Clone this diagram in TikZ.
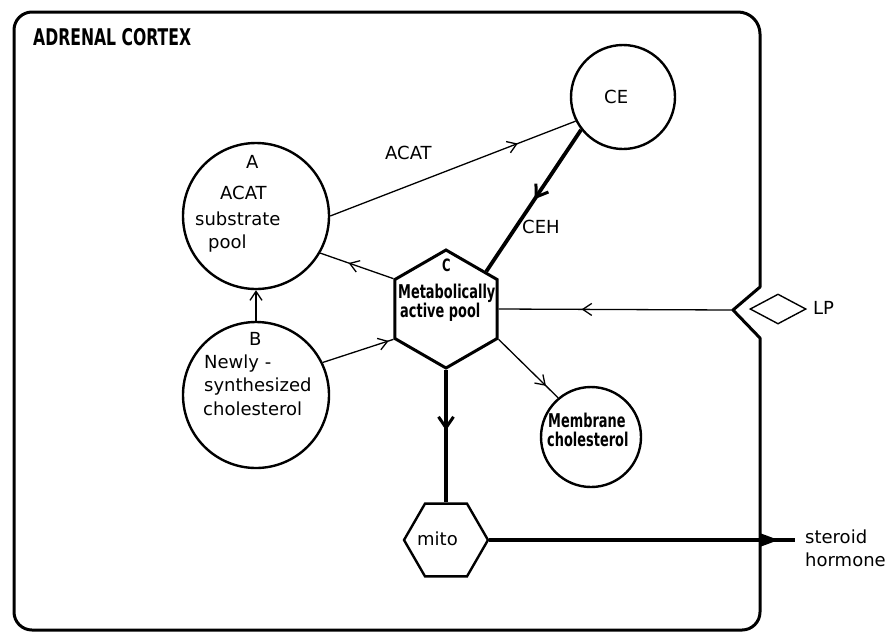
\documentclass[tikz,border=0pt]{standalone}
\usepackage{fontspec}
\setmainfont{DejaVu Sans}
\newfontfamily\condfont{DejaVu Sans}[FakeStretch=0.68]
\usetikzlibrary{shapes.geometric, arrows.meta, decorations.markings}

\begin{document}
\begin{tikzpicture}[x=1pt, y=-1pt,
  txt/.style={inner sep=0pt, anchor=base west, font=\fontsize{18}{20}\selectfont},
  ctxt/.style={inner sep=0pt, anchor=base west, font=\condfont\bfseries\fontsize{19}{20}\selectfont},
  pool/.style={circle, draw, line width=2.4pt, inner sep=0pt},
  hexa/.style={regular polygon, regular polygon sides=6, draw, line width=3pt, inner sep=0pt},
  flow/.style={line width=1.3pt},
  mainflow/.style={line width=3.8pt},
  cellwall/.style={line width=3pt, line join=round},
  midbarb/.style={postaction={decorate}, decoration={markings,
      mark=at position #1 with {\arrow{Straight Barb[length=9pt,width=12pt,line width=1.3pt]}}}},
  midbarbthick/.style={postaction={decorate}, decoration={markings,
      mark=at position #1 with {\arrow{Straight Barb[length=11pt,width=15pt,line width=3pt]}}}},
  midtri/.style={postaction={decorate}, decoration={markings,
      mark=at position #1 with {\arrow{Triangle[length=18pt,width=12pt]}}}},
]
\useasboundingbox (0,0) rectangle (890,633);

% cell outline with the lipoprotein receptor notch
\draw[cellwall] (300,12) [rounded corners=22pt] -- (760,12) -- (760,200)
  [sharp corners] -- (760,287) -- (733,310) -- (760,338) -- (760,400)
  [rounded corners=18pt] -- (760,630) -- (14,630) -- (14,12) -- cycle;
\coordinate (notch) at (733,310);
\node[inner sep=0pt, anchor=base west, font=\condfont\bfseries\fontsize{23}{24}\selectfont]
  (title) at (33,45) {ADRENAL CORTEX};

% pools
\node[pool, minimum size=146pt] (A) at (256,216) {};
\node[pool, minimum size=146pt] (B) at (256,395) {};
\node[pool, minimum size=104pt] (CE) at (623,97) {};
\node[pool, minimum size=100pt] (M) at (591,437) {};
\node[hexa, minimum size=118pt, shape border rotate=30] (C) at (446,309) {};
\node[hexa, minimum size=84pt, line width=2.4pt] (mito) at (446,540) {};
\node[diamond, draw, line width=1.4pt, minimum width=56pt, minimum height=30pt,
  inner sep=0pt] (lp) at (778,309) {};
\coordinate (out) at (795,540);

% pool labels
\node[txt] (Aa) at (246,168) {A};
\node[txt] (Ab) at (220,199) {ACAT};
\node[txt] (Ac) at (195,225) {substrate};
\node[txt] (Ad) at (208,248) {pool};
\node[txt] (Ba) at (249,345) {B};
\node[txt] (Bb) at (204,368) {Newly -};
\node[txt] (Bc) at (204,391) {synthesized};
\node[txt] (Bd) at (203,415) {cholesterol};
\node[txt] (CEa) at (604,103) {CE};
\node[ctxt, font=\condfont\bfseries\fontsize{17}{18}\selectfont] (Ca) at (442,271) {C};
\node[ctxt] (Cb) at (398,298) {Metabolically};
\node[ctxt] (Cc) at (400,317) {active pool};
\node[ctxt] (Ma) at (548,427) {Membrane};
\node[ctxt] (Mb) at (547,446) {cholesterol};
\node[txt] (mitoa) at (417,545) {mito};
\node[txt] (lpa) at (813,314) {LP};
\node[txt] (sa) at (805,543) {steroid};
\node[txt] (sb) at (805,566) {hormone};
\node[txt] (acat) at (385,159) {ACAT};
\node[txt] (ceh) at (522,233) {CEH};

% fluxes
\draw[flow, midbarb=-62pt] (A.east) -- (CE.207);
\draw[mainflow, midbarbthick=0.49] (CE.218) -- (C.43);
\draw[flow, midbarb=-30pt] (C.150) -- (A.330);
\draw[flow, -{Straight Barb[length=9pt,width=12pt]}] (B.90) -- (A.270);
\draw[flow, midbarb=-5pt] (B.26) -- (C.210);
\draw[flow, midbarb=-17pt] (C.330) -- (M.130);
\draw[flow, midbarb=-83pt] (notch) -- (C.0);
\draw[line width=3.4pt, midbarbthick=-72pt] (C.270) -- (mito.90);
\draw[line width=3.4pt, midtri=-16pt] (mito.0) -- (out);
\end{tikzpicture}
\end{document}
